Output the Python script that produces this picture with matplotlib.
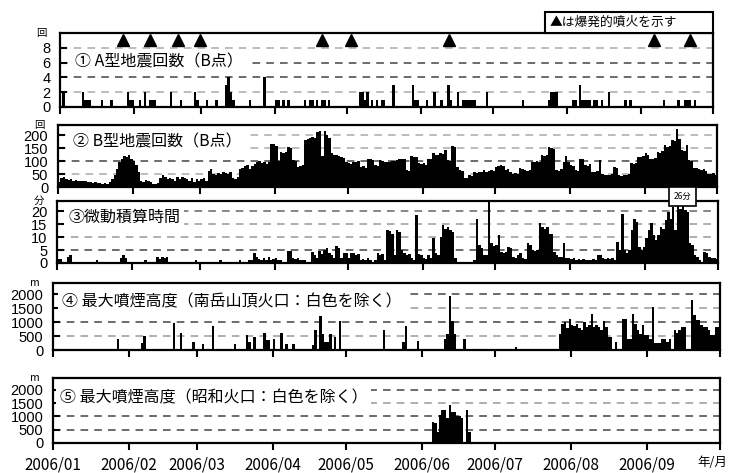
import numpy as np
import pandas as pd
import matplotlib
matplotlib.use('Agg')
import matplotlib.pyplot as plt
from matplotlib.patches import Rectangle

plt.rcParams['font.family'] = ['Noto Sans CJK JP', 'DejaVu Sans']

W, H = 733, 473
start = pd.Timestamp('2006-01-01')
end = pd.Timestamp('2006-10-01')

# 月ラベル
month_ticks = pd.date_range(start, end, freq='MS')
month_labels = ['2006/01', '2006/02', '2006/03', '2006/04', '2006/05',
                '2006/06', '2006/07', '2006/08', '2006/09', '']

# 爆発的噴火 (1/1 からの日数)
explosion_days = [26, 37, 49, 58, 109, 121, 162, 248, 263]

# ① A型地震回数 (日, 回数)
a_days = [1, 9, 10, 11, 12, 17, 21, 28, 29, 30, 33, 35, 37, 38, 39, 46, 50, 56, 57,
          61, 65, 69, 70, 71, 72, 79, 85, 90, 91, 93, 95, 102, 104, 105, 107, 109,
          110, 112, 125, 126, 127, 128, 130, 132, 134, 135, 139, 147, 148, 149, 153,
          156, 159, 162, 163, 166, 168, 169, 170, 171, 172, 173, 178, 193, 204, 205,
          206, 207, 214, 215, 217, 218, 219, 220, 221, 223, 224, 226, 229, 236, 238,
          252, 258, 261, 262, 263, 265]
a_counts = [2, 2, 1, 1, 1, 1, 1, 2, 1, 1, 1, 2, 1, 1, 1, 2, 1, 2, 1,
            1, 1, 3, 4, 2, 1, 1, 4, 1, 1, 1, 1, 1, 1, 1, 1, 1,
            1, 1, 2, 2, 1, 2, 1, 1, 1, 1, 3, 3, 1, 1, 1,
            2, 1, 3, 1, 2, 1, 1, 1, 1, 1, 1, 2, 1, 1, 2,
            2, 2, 1, 1, 3, 1, 1, 1, 1, 1, 1, 1, 2, 1, 1,
            1, 1, 1, 1, 1, 1]

# ② B型地震回数 (日別, 1/1-9/30)
b_jan = [20, 35, 38, 30, 28, 32, 25, 28, 25, 22, 25, 22, 18, 20, 15, 18, 14, 15, 12, 15,
         12, 20, 30, 45, 70, 95, 110, 120, 118, 122, 110]
b_feb = [100, 85, 60, 25, 20, 28, 22, 18, 10, 12, 15, 35, 45, 40, 30, 35, 30, 25, 38, 30,
         40, 35, 30, 25, 35, 20, 30, 25]
b_mar = [30, 35, 25, 62, 70, 50, 45, 55, 50, 60, 55, 50, 58, 35, 30, 40, 70, 75, 80, 85,
         70, 80, 90, 95, 100, 92, 98, 90, 95, 165, 168]
b_apr = [160, 100, 136, 130, 136, 155, 150, 104, 100, 78, 80, 85, 180, 185, 190, 193, 188,
         212, 218, 120, 215, 200, 190, 130, 125, 123, 120, 116, 112, 95]
b_may = [91, 88, 97, 95, 100, 78, 80, 75, 110, 108, 105, 85, 80, 104, 100, 97, 95, 97, 100,
         102, 104, 110, 108, 110, 65, 62, 119, 115, 118, 91, 88]
b_jun = [91, 85, 110, 108, 130, 123, 125, 130, 128, 142, 104, 100, 158, 155, 78, 65, 62, 33,
         35, 46, 44, 59, 55, 60, 58, 65, 60, 62, 65, 63]
b_jul = [78, 82, 85, 80, 65, 68, 60, 52, 55, 50, 72, 70, 65, 62, 66, 97, 95, 100, 98, 123,
         120, 125, 155, 150, 148, 65, 62, 68, 97, 120, 95]
b_aug = [85, 80, 65, 62, 110, 108, 85, 80, 88, 60, 58, 62, 104, 50, 45, 48, 45, 50, 78, 75,
         46, 44, 48, 45, 50, 91, 88, 92, 117, 115, 120]
b_sep = [130, 125, 110, 108, 112, 136, 130, 138, 162, 155, 160, 181, 178, 226, 187, 142,
         140, 162, 104, 100, 72, 75, 70, 65, 68, 62, 52, 50, 55, 48]

# ③ 微動積算時間 (分, 日別)
t_jan = [1.5, 1.5, 0, 0, 2.5, 3, 0, 0, 0, 0, 0, 0, 0, 0, 0, 0, 1, 0, 0, 0,
         0, 0, 0, 0, 0, 0, 2, 3, 2, 0, 0]
t_feb = [0, 0, 0, 0, 0, 1, 0, 0, 0, 0, 2.5, 1.5, 2.5, 2, 2.5, 0, 0, 0, 0, 0,
         0, 0, 0, 0, 0, 0, 1, 0]
t_mar = [0, 0, 0, 0, 0, 0, 0, 0, 1, 0, 0, 0, 0, 0, 0, 0.5, 1, 0, 0.5, 0,
         1, 1, 3.7, 2.4, 1.5, 1, 2, 1, 2.5, 1, 1.5]
t_apr = [2, 1, 1, 0.5, 0, 4.7, 4.5, 2, 1.5, 2, 1, 1, 1, 0.5, 0, 4.4, 3, 2, 4.5, 3.5,
         5, 5.9, 4, 3, 2, 6.5, 6, 2, 3.7, 3.7]
t_may = [2, 4, 3.7, 3, 3.5, 1, 1.5, 1, 2, 1, 0.5, 1, 3.7, 3, 3.5, 1, 12.7, 12.3, 11.4, 3,
         12.7, 12, 5, 4, 3, 3.5, 2, 1, 18.7, 3.5, 3]
t_jun = [1.8, 1.5, 3, 2, 9.5, 3.7, 3, 9.9, 14.6, 13, 14, 12.7, 12, 2, 0, 0, 0, 0, 0, 0,
         0, 1, 17.2, 6.9, 6, 3, 3, 23.5, 7.6, 6.5]
t_jul = [7, 10.8, 4.4, 4, 4.4, 6.3, 6, 2.4, 2, 3, 3.7, 1.8, 1.5, 7.6, 7, 5, 4.5, 5, 15.3, 14,
         13, 14, 11.4, 11.4, 4.4, 3, 2.4, 2.5, 7.6, 2, 2]
t_aug = [1.5, 2, 1, 1.5, 1, 1.5, 1, 1.2, 1, 1.5, 1, 3, 3, 1.8, 1.5, 1.8, 1.5, 1.8, 1, 8.2,
         5, 19, 5, 4, 5, 12.7, 17.2, 16, 6.3, 5, 6.3]
t_sep = [9.5, 12.7, 15.3, 10.8, 9, 10.8, 14, 13, 16.5, 19.7, 17, 21.7, 12.7, 22.3, 21, 26,
         20.4, 19.7, 7.6, 7, 3, 2.5, 1, 0.5, 4.4, 4, 2.4, 2, 1.8, 1.5]

# ④ 最大噴煙高度 南岳山頂火口 (日, m)
m_days = [26, 36, 37, 49, 52, 57, 61, 65, 74, 79, 80, 82, 86, 87, 88, 90, 93, 95, 98,
          106, 107, 109, 110, 111, 112, 113, 115, 117, 135, 143, 144, 149, 160, 161,
          162, 163, 164, 168, 189,
          207, 208, 209, 210, 211, 212, 213, 214, 215, 216, 217, 218, 219, 220, 221,
          222, 223, 224, 225, 226, 227, 228, 230, 233, 234, 235, 236, 237, 238, 239, 240,
          241, 242, 243, 244, 245, 246, 247, 248, 249, 250, 251, 252, 254, 255, 256, 257,
          258, 261, 262, 263, 264, 265, 266, 267, 268, 269, 270, 271, 272]
m_height = [400, 250, 500, 950, 600, 300, 200, 850, 200, 530, 300, 470, 600, 350, 350,
            400, 620, 200, 200, 180, 700, 1230, 590, 300, 300, 590, 470, 1050, 700, 300,
            850, 330, 400, 590, 1950, 1035, 590, 410, 120,
            590, 940, 1000, 800, 1120, 900, 850, 940, 800, 700, 1000, 820, 900, 1300,
            820, 900, 820, 700, 1035, 820, 470, 470, 300, 1120, 1100, 410, 410, 1300, 940,
            700, 590, 900, 530, 530, 400, 1530, 240, 240, 240, 410, 410, 300, 410, 700, 600,
            700, 820, 820, 1790, 1240, 1060, 1060, 900, 820, 820, 700, 530, 530, 820, 820]

# ⑤ 最大噴煙高度 昭和火口 (日, m)
s_days = [155, 156, 157, 158, 159, 160, 161, 162, 163, 164, 165, 166, 167, 169, 170]
s_height = [800, 740, 420, 1050, 1240, 1240, 925, 1450, 1175, 1175, 1025, 1025, 925,
            1240, 425]

b_daily = b_jan + b_feb + b_mar + b_apr + b_may + b_jun + b_jul + b_aug + b_sep
t_daily = t_jan + t_feb + t_mar + t_apr + t_may + t_jun + t_jul + t_aug + t_sep
daily_dates = pd.date_range(start, periods=len(b_daily), freq='D')


def to_dates(days):
    return start + pd.to_timedelta(days, unit='D')


def px_axes(fig, left, top, right, bottom):
    return fig.add_axes([left / W, 1 - bottom / H, (right - left) / W, (bottom - top) / H])


fig = plt.figure(figsize=(W / 100, H / 100), dpi=100)

num_font = ['Liberation Sans Narrow', 'Liberation Sans']
dash = (0, (5, 4))


def setup(ax, ymax, yticks, grid_colors, title, tx, ty, unit, show_dates=False):
    ax.set_xlim(start, end)
    ax.set_ylim(0, ymax)
    ax.set_yticks(yticks)
    ax.set_yticklabels([str(v) for v in yticks], family=num_font, fontsize=10.5)
    for y, c in zip(yticks[1:], grid_colors):
        ax.axhline(y, color=c, ls=dash, lw=1.1, zorder=0)
    ax.set_xticks(month_ticks)
    if show_dates:
        ax.set_xticklabels(month_labels, fontsize=11)
    else:
        ax.set_xticklabels([])
    ax.tick_params(axis='x', direction='out', length=5, width=1.5, pad=5)
    ax.tick_params(axis='y', direction='in', length=5, width=1.5, pad=7)
    for s in ax.spines.values():
        s.set_linewidth(1.6)
    ax.text(tx, ty, title, transform=ax.transAxes, fontsize=11.5, va='center', ha='left',
            zorder=3, bbox=dict(facecolor='white', edgecolor='none', pad=3))
    ax.text(-0.02, 1.0, unit, transform=ax.transAxes, fontsize=7.5, ha='right', va='center')


def bars(ax, dates, values):
    ax.bar(dates, values, width=1.0, align='edge', color='black', linewidth=0, zorder=2)


# ①
ax1 = px_axes(fig, 60, 33, 713, 107)
setup(ax1, 10, [0, 2, 4, 6, 8], ['#aaaaaa', '#444444', '#444444', '#aaaaaa'],
      '① A型地震回数（B点）', 0.023, 0.61, '回')
bars(ax1, to_dates(a_days), a_counts)
ax1.plot(to_dates(np.array(explosion_days) + 0.5), np.full(len(explosion_days), 9.1),
         ls='none', marker='^', color='black', ms=9, zorder=4, clip_on=False)

# ②
ax2 = px_axes(fig, 58, 125, 717, 187)
setup(ax2, 240, [0, 50, 100, 150, 200], ['#aaaaaa', '#444444', '#aaaaaa', '#aaaaaa'],
      '② B型地震回数（B点）', 0.023, 0.73, '回')
bars(ax2, daily_dates, b_daily)

# ③
ax3 = px_axes(fig, 57, 201, 718, 263)
setup(ax3, 24, [0, 5, 10, 15, 20], ['#444444', '#999999', '#999999', '#666666'],
      '③微動積算時間', 0.017, 0.73, '分')
bars(ax3, daily_dates, t_daily)
peak = int(np.argmax(t_daily))
ax3.annotate(f'{t_daily[peak]:g}分', xy=(daily_dates[peak] + pd.Timedelta(hours=12), 1.0),
             xycoords=('data', 'axes fraction'), ha='center', va='bottom', fontsize=6,
             annotation_clip=False,
             bbox=dict(boxstyle='square,pad=0.55', facecolor='white', edgecolor='black', lw=1.2))

# ④
ax4 = px_axes(fig, 53, 283, 720, 350)
setup(ax4, 2400, [0, 500, 1000, 1500, 2000], ['#999999', '#444444', '#999999', '#444444'],
      '④ 最大噴煙高度（南岳山頂火口：白色を除く）', 0.013, 0.72, 'm')
bars(ax4, to_dates(m_days), m_height)

# ⑤
ax5 = px_axes(fig, 53, 378, 720, 443)
setup(ax5, 2450, [0, 500, 1000, 1500, 2000], ['#444444', '#444444', '#999999', '#444444'],
      '⑤ 最大噴煙高度（昭和火口：白色を除く）', 0.01, 0.69, 'm', show_dates=True)
bars(ax5, to_dates(s_days), s_height)

fig.text(712 / W, 1 - 462 / H, '年/月', fontsize=9, ha='center', va='center')

# 凡例ボックス
fig.patches.append(Rectangle((545 / W, 1 - 33 / H), 168 / W, 21 / H, transform=fig.transFigure,
                             facecolor='white', edgecolor='black', lw=1.5))
fig.text(550 / W, 1 - 22.5 / H, '▲は爆発的噴火を示す', fontsize=9.2, ha='left', va='center')

fig.savefig('out.png', dpi=100)
